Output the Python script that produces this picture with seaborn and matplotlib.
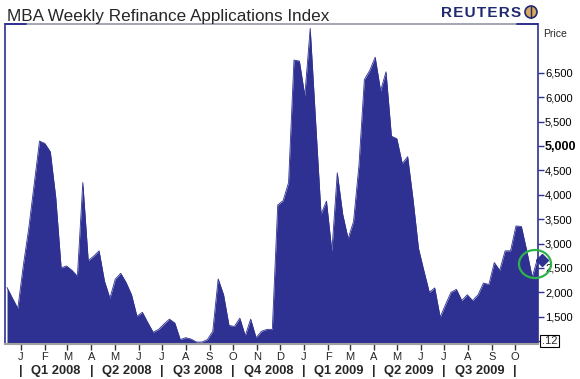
import matplotlib
matplotlib.use("Agg")
import matplotlib.pyplot as plt
from matplotlib.patches import Ellipse
from matplotlib.lines import Line2D
import numpy as np
import pandas as pd
import seaborn as sns

# ---- data (weekly index) ----
start_week = "2007-12-14"
index_values = [2100, 1880, 1670, 2540, 3300, 4200, 5100, 5050, 4880, 3950,
                2500, 2540, 2450, 2330, 4250, 2650, 2740, 2850, 2230, 1880,
                2270, 2390, 2200, 1950, 1510, 1590, 1380, 1180, 1240, 1350,
                1450, 1370, 1030, 1070, 1040, 980, 980, 1030, 1200, 2275,
                1950, 1320, 1300, 1470, 1110, 1450, 1070, 1200, 1240, 1240,
                3790, 3880, 4250, 6760, 6740, 6030, 7410, 5500, 3600, 3870,
                2840, 4450, 3600, 3100, 3450, 4600, 6360, 6550, 6820, 6130,
                6520, 5200, 5150, 4640, 4780, 3900, 2900, 2440, 2000, 2090,
                1490, 1750, 2000, 2060, 1830, 1950, 1830, 1950, 2190, 2160,
                2610, 2450, 2850, 2850, 3360, 3350, 2850, 2310, 2700]
latest_value = 2660
y_ticks = [1500, 2000, 2500, 3000, 3500, 4000, 4500, 5000, 5500, 6000, 6500]
month_letters = ["J", "F", "M", "A", "M", "J", "J", "A", "S", "O", "N", "D"]
quarter_labels = ["Q1 2008", "Q2 2008", "Q3 2008", "Q4 2008",
                  "Q1 2009", "Q2 2009", "Q3 2009"]
title = "MBA Weekly Refinance Applications Index"

dates = pd.date_range(start_week, periods=len(index_values), freq="7D")
df = pd.DataFrame({"date": dates, "value": index_values})

NAVY = "#2E3192"
sns.set_theme(style="white")
plt.rcParams["font.family"] = ["Liberation Sans", "DejaVu Sans"]

W, H = 580, 379
fig = plt.figure(figsize=(W / 100, H / 100), dpi=100)
ax = fig.add_axes([5 / W, 1 - 344 / H, 533 / W, 320 / H])

ymin, ymax = 940, 7500
ax.fill_between(df["date"], ymin, df["value"], color=NAVY, lw=0, zorder=2)
sns.lineplot(data=df, x="date", y="value", ax=ax, color=NAVY, lw=0.6, zorder=3)

ax.set_ylim(ymin, ymax)
ax.set_xlim(dates[0] - pd.Timedelta(days=2.6), dates[-1] + pd.Timedelta(days=0.5))
ax.set_xlabel("")
ax.set_ylabel("")

# y axis on right
ax.yaxis.tick_right()
ax.set_yticks(y_ticks + [1000])
ax.set_yticklabels([f"{v:,}" for v in y_ticks] + [""])
ax.tick_params(axis="y", which="both", direction="out", length=4, width=1,
               color=NAVY, labelsize=8, pad=1, labelcolor="black", right=True, left=False)
for lbl in ax.get_yticklabels():
    if lbl.get_text() == "5,000":
        lbl.set_fontweight("bold")
        lbl.set_fontsize(9)
ax.text(1.007, 1000, ".12", transform=ax.get_yaxis_transform(), fontsize=8,
        va="center", ha="left",
        bbox=dict(boxstyle="square,pad=0.12", fc="white", ec="black", lw=0.8))
ax.text(1.01, 0.97, "Price", transform=ax.transAxes, fontsize=7.5, va="center", ha="left")

# x axis months
month_starts = pd.date_range("2008-01-01", "2009-10-01", freq="MS")
ax.set_xticks(month_starts)
ax.set_xticklabels([month_letters[d.month - 1] for d in month_starts])
ax.tick_params(axis="x", direction="out", length=4, width=1, color="#333333",
               labelsize=8, pad=2, bottom=True)

# quarter row
q_starts = pd.date_range("2008-01-01", "2009-10-01", freq="QS")
trans = ax.get_xaxis_transform()
for d in q_starts:
    ax.text(d, -0.085, "|", transform=trans, ha="center", va="center",
            fontsize=9, fontweight="bold", clip_on=False)
for i, lab in enumerate(quarter_labels):
    mid = q_starts[i] + (q_starts[i + 1] - q_starts[i]) / 2
    ax.text(mid, -0.085, lab, transform=trans, ha="center", va="center",
            fontsize=9.3, fontweight="bold", clip_on=False)

# spines
for s in ["left", "right"]:
    ax.spines[s].set_color(NAVY)
    ax.spines[s].set_linewidth(1.2)
ax.spines["top"].set_color("#9a9aaa")
ax.spines["bottom"].set_color("#a0a0a0")
ax.spines["bottom"].set_linewidth(1.5)
ax.grid(False)
top_y = 1 - 24 / H
for x0, x1 in [(5, 26), (517, 538)]:
    fig.lines.append(Line2D([x0 / W, x1 / W], [top_y, top_y], transform=fig.transFigure,
                            color=NAVY, lw=1.4, zorder=7))

# latest value marker and highlight
ax.plot([dates[-1] + pd.Timedelta(days=6)], [latest_value], marker="D", ms=6,
        color=NAVY, clip_on=False, zorder=5)
fig.patches.append(Ellipse((535 / W, 1 - 264 / H), 32 / W, 28 / H,
                           transform=fig.transFigure, fill=False,
                           ec="#2db34a", lw=1.6, zorder=6))

# title & logo
fig.text(7 / W, 1 - 21 / H, title, fontsize=12.3, ha="left", va="baseline")
fig.text(441 / W, 1 - 17 / H, "R E U T E R S".replace(" ", "\u200a"), fontsize=11,
         fontweight="bold", color="#1f2a6e", ha="left", va="baseline")
fig.patches.append(Ellipse((531 / W, 1 - 12 / H), 12 / W, 12 / H,
                           transform=fig.transFigure, fc="#d8a860", ec="#1f2a6e", lw=1.2))
fig.lines.append(Line2D([531 / W, 531 / W], [1 - 6 / H, 1 - 18 / H],
                        transform=fig.transFigure, color="#1f2a6e", lw=1))

fig.savefig("out.png", dpi=100)
